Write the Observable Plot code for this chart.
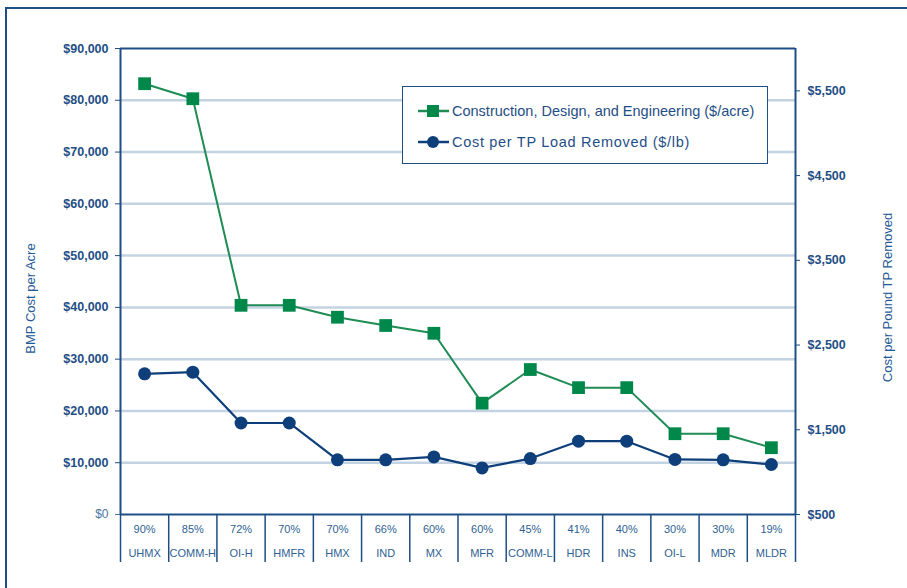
<!DOCTYPE html>
<html><head><meta charset="utf-8">
<script src="https://cdn.jsdelivr.net/npm/d3@7"></script>
<script src="https://cdn.jsdelivr.net/npm/@observablehq/plot@0.6"></script>
<style>
body{margin:0;background:#fff;font-family:"Liberation Sans",Arial,sans-serif;}
#wrap{position:relative;width:907px;height:588px;overflow:hidden;background:#fff;}
#border{position:absolute;left:5px;top:7px;width:940px;height:640px;border:2px solid #1f4e85;}
#chart{position:absolute;left:0;top:0;}
#legend{position:absolute;left:402px;top:86px;width:364px;height:76px;border:1px solid #1f4e85;background:#fff;color:#1f4e85;}
.row{position:absolute;left:15px;display:flex;align-items:center;white-space:nowrap;}
.row svg{margin-right:3px;}
</style></head>
<body><div id="wrap"><div id="border"></div><div id="chart"></div>
<div id="legend">
  <div class="row" style="top:16px;font-size:14.5px;"><svg width="31" height="16"><line x1="0" y1="8" x2="31" y2="8" stroke="#1e8c54" stroke-width="2.5"/><rect x="9" y="2" width="12" height="12" fill="#00874a"/></svg><span id="l1"></span></div>
  <div class="row" style="top:47px;font-size:14.5px;letter-spacing:0.7px;"><svg width="31" height="16"><line x1="0" y1="8" x2="31" y2="8" stroke="#0e3f7b" stroke-width="2.5"/><circle cx="15" cy="8" r="6" fill="#0e3f7b"/></svg><span id="l2"></span></div>
</div>
</div>
<script>
// ---- data ----
const categories = ["UHMX","COMM-H","OI-H","HMFR","HMX","IND","MX","MFR","COMM-L","HDR","INS","OI-L","MDR","MLDR"];
const removal = ["90%","85%","72%","70%","70%","66%","60%","60%","45%","41%","40%","30%","30%","19%"];
const cdeCost = [83200, 80300, 40400, 40400, 38100, 36500, 35000, 21500, 28000, 24500, 24500, 15600, 15600, 12900];
const tpCost = [2160, 2180, 1580, 1580, 1145, 1145, 1180, 1050, 1160, 1365, 1365, 1150, 1145, 1090];
const leftDomain = [0, 90000];
const leftTicks = [0, 10000, 20000, 30000, 40000, 50000, 60000, 70000, 80000, 90000];
const rightDomain = [500, 6000];
const rightTicks = [500, 1500, 2500, 3500, 4500, 5500];
const seriesNames = ["Construction, Design, and Engineering ($/acre)", "Cost per TP Load Removed ($/lb)"];
const leftTitle = "BMP Cost per Acre";
const rightTitle = "Cost per Pound TP Removed";

document.getElementById("l1").textContent = seriesNames[0];
document.getElementById("l2").textContent = seriesNames[1];

// map right-axis values onto the left scale
const toLeft = v => (v - rightDomain[0]) / (rightDomain[1] - rightDomain[0]) * (leftDomain[1] - leftDomain[0]) + leftDomain[0];
const fromLeft = v => (v - leftDomain[0]) / (leftDomain[1] - leftDomain[0]) * (rightDomain[1] - rightDomain[0]) + rightDomain[0];

const data = categories.map((c, i) => ({pos: i + 0.5, cat: c, pct: removal[i], cde: cdeCost[i], tp: tpCost[i]}));
const n = categories.length;
const bounds = d3.range(n + 1);
const centers = data.map(d => d.pos);
const money = d3.format("$,");
const dark = "#1f4e85";
const navy = "#0e3f7b";
const green = "#00874a";

const chart = Plot.plot({
  width: 907,
  height: 588,
  marginLeft: 120,
  marginRight: 112,
  marginTop: 48,
  marginBottom: 74,
  x: {domain: [0, n], axis: null},
  y: {domain: leftDomain, axis: null},
  style: {fontFamily: '"Liberation Sans", Arial, sans-serif', background: "transparent"},
  marks: [
    Plot.ruleY(leftTicks.slice(1, -1), {stroke: "#c4d3e1", strokeWidth: 2.5}),
    Plot.ruleY([leftDomain[1]], {stroke: dark, strokeWidth: 2}),
    Plot.ruleY([leftDomain[0]], {stroke: dark, strokeWidth: 2}),
    // left axis
    Plot.axisY({ticks: leftTicks.slice(1), label: null, tickSize: 5, tickPadding: 7, tickFormat: money, fontSize: 12.5, fontWeight: "bold", color: dark}),
    Plot.axisY({ticks: [leftTicks[0]], label: null, tickSize: 5, tickPadding: 7, tickFormat: money, fontSize: 12, color: "#4a74a0"}),
    // right axis
    Plot.axisY({anchor: "right", label: null, ticks: rightTicks.map(toLeft), tickSize: 4, tickPadding: 8, tickFormat: d => money(Math.round(fromLeft(d))), fontSize: 12.5, fontWeight: "bold", color: dark}),
    Plot.ruleX([0], {stroke: dark, strokeWidth: 2}),
    Plot.ruleX([n], {stroke: dark, strokeWidth: 2}),
    // category table
    Plot.axisX({ticks: bounds, label: null, tickSize: 48, tickFormat: () => "", stroke: dark, strokeWidth: 1.5}),
    Plot.axisX({ticks: centers, label: null, tickSize: 0, tickPadding: 11, tickFormat: d => removal[Math.floor(d)], fontSize: 11, color: "#2f5f92"}),
    Plot.axisX({ticks: centers, label: null, tickSize: 0, tickPadding: 35, tickFormat: d => categories[Math.floor(d)], fontSize: 11, color: "#2f5f92"}),
    // series
    Plot.line(data, {x: "pos", y: "cde", stroke: "#1e8c54", strokeWidth: 2}),
    Plot.dot(data, {x: "pos", y: "cde", symbol: "square", r: 7.2, fill: green, stroke: null}),
    Plot.line(data, {x: "pos", y: d => toLeft(d.tp), stroke: navy, strokeWidth: 2.2}),
    Plot.dot(data, {x: "pos", y: d => toLeft(d.tp), symbol: "circle", r: 6.5, fill: navy, stroke: null}),
    // axis titles
    Plot.text([leftTitle], {frameAnchor: "left", textAnchor: "middle", dx: -90, dy: 17, rotate: -90, fontSize: 13, fill: "#1f5a96"}),
    Plot.text([rightTitle], {frameAnchor: "right", textAnchor: "middle", dx: 92, dy: 16, rotate: -90, fontSize: 13, fill: "#1f5a96"})
  ]
});
document.getElementById("chart").appendChild(chart);
</script>
</body></html>
